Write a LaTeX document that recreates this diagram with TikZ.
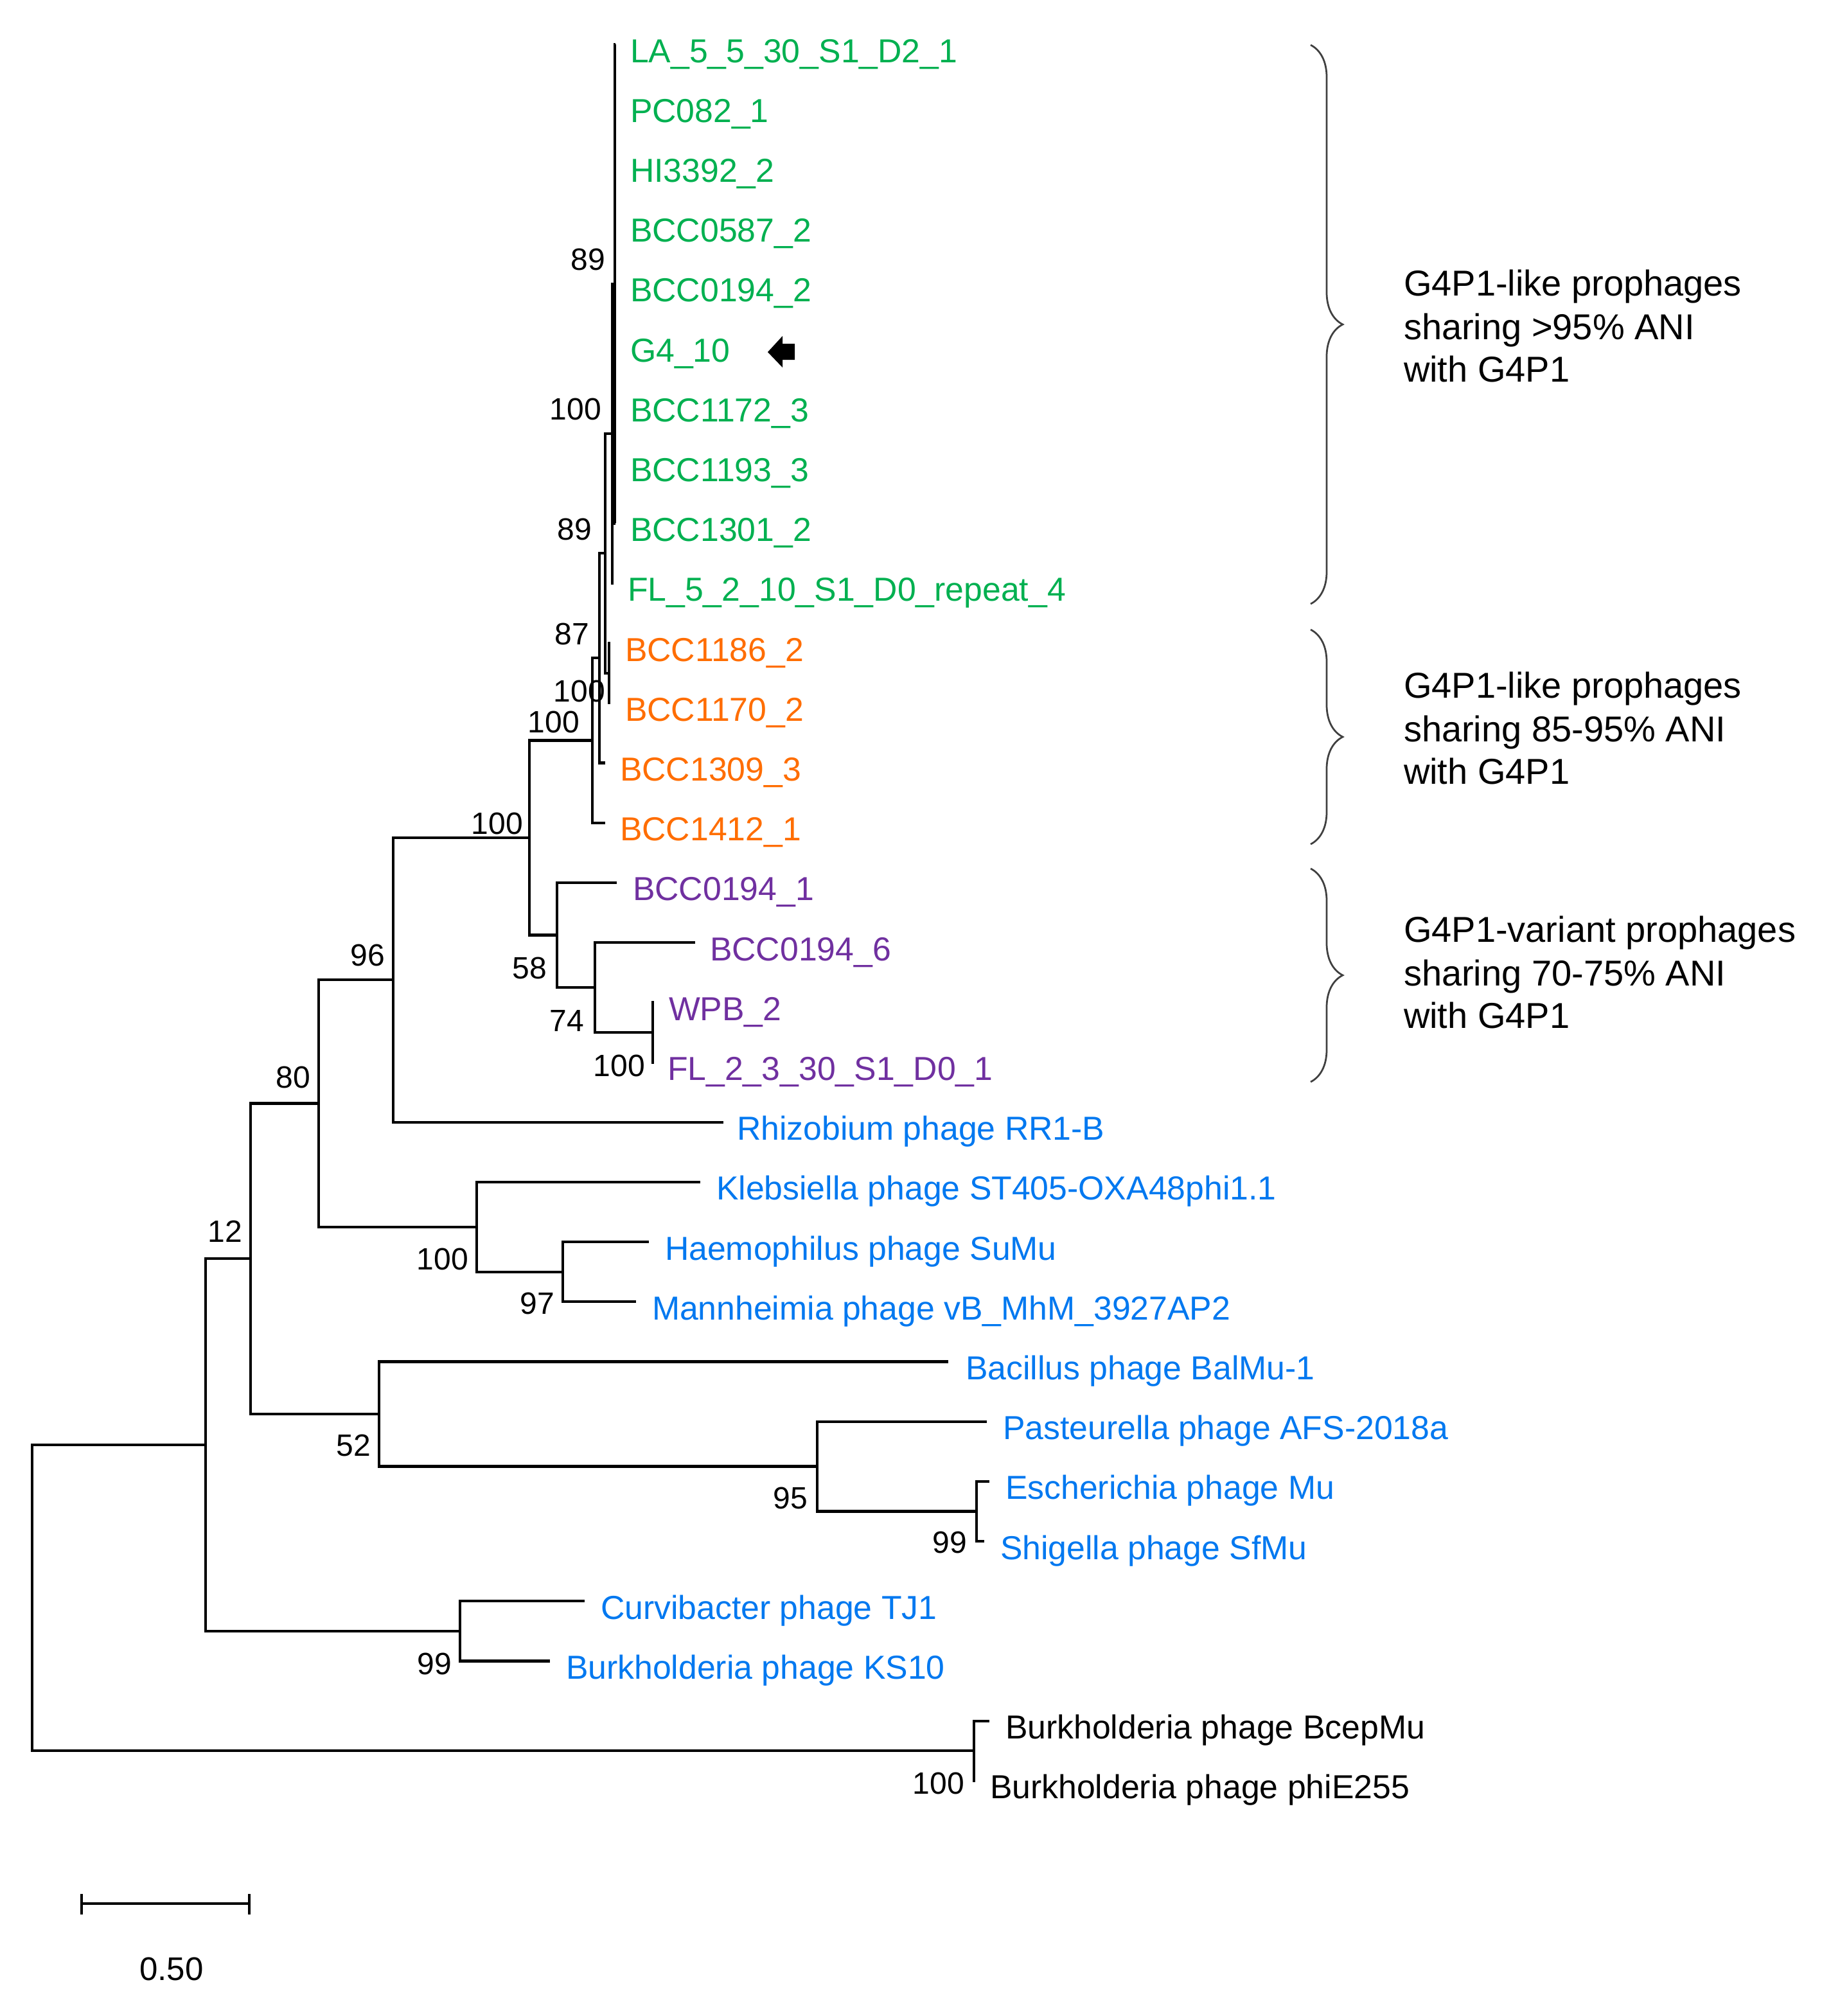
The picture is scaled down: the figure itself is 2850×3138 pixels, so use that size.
\documentclass[tikz,border=0pt]{standalone}
\usepackage{fontspec}
\setmainfont{Liberation Sans}
\usetikzlibrary{decorations.pathreplacing}
\definecolor{cgreen}{HTML}{00B050}
\definecolor{corange}{HTML}{FF6D00}
\definecolor{cpurple}{HTML}{7030A0}
\definecolor{cblue}{HTML}{0078F0}
\definecolor{cbrace}{HTML}{404040}
\begin{document}
\begin{tikzpicture}[x=0.2pt,y=-0.2pt,
  branch/.style={line width=0.85pt,line join=miter},
  tiplab/.style={anchor=base west,inner sep=0pt,font=\fontsize{10.35}{12}\selectfont},
  boot/.style={anchor=base east,inner sep=0pt,font=\fontsize{9.6}{11}\selectfont},
  annot/.style={anchor=base west,inner sep=0pt,font=\fontsize{11.2}{13}\selectfont},
  brc/.style={decorate,decoration={brace,amplitude=10pt},draw=cbrace,line width=0.55pt}]
\useasboundingbox (0,0) rectangle (2850,3138);
% ---------- tips ----------
\coordinate (t0) at (958,69);
\coordinate (t1) at (958,162.2);
\coordinate (t2) at (958,255.4);
\coordinate (t3) at (958,348.6);
\coordinate (t4) at (958,441.8);
\coordinate (t5) at (958,535);
\coordinate (t6) at (958,628.2);
\coordinate (t7) at (958,721.4);
\coordinate (t8) at (958,814.6);
\coordinate (t9) at (955,907.8);
\coordinate (t10) at (950,1001);
\coordinate (t11) at (950,1094.2);
\coordinate (t12) at (942,1187.4);
\coordinate (t13) at (942,1280.6);
\coordinate (t14) at (960,1373.8);
\coordinate (t15) at (1082,1467);
\coordinate (t16) at (1018,1560.2);
\coordinate (t17) at (1018,1653.4);
\coordinate (t18) at (1126,1746.6);
\coordinate (t19) at (1090,1839.8);
\coordinate (t20) at (1010,1933);
\coordinate (t21) at (990,2026.2);
\coordinate (t22) at (1476,2119.4);
\coordinate (t23) at (1536,2212.6);
\coordinate (t24) at (1540,2305.8);
\coordinate (t25) at (1532,2399);
\coordinate (t26) at (910,2492.2);
\coordinate (t27) at (856,2585.4);
\coordinate (t28) at (1540,2678.6);
\coordinate (t29) at (1518,2771.8);
% ---------- internal nodes ----------
\coordinate (nQ) at (957,441.8);
\coordinate (nQ2) at (953,628.2);
\coordinate (nP) at (953,674.8);
\coordinate (nT) at (948,1047.6);
\coordinate (nR) at (942,861.2);
\coordinate (nS) at (933,1024.3);
\coordinate (nA) at (922,1152.45);
\coordinate (nW) at (1016,1606.8);
\coordinate (n74) at (926,1536.9);
\coordinate (n58) at (867,1455.35);
\coordinate (nB) at (824,1303.9);
\coordinate (n96) at (612,1525.25);
\coordinate (n97) at (876,1979.6);
\coordinate (nK) at (742,1909.7);
\coordinate (n80) at (496,1717.5);
\coordinate (nE) at (1520,2352.4);
\coordinate (n95) at (1272,2282.5);
\coordinate (n52) at (590,2200.95);
\coordinate (n12) at (390,1959.2);
\coordinate (nC) at (716,2538.8);
\coordinate (n12p) at (320,2249);
\coordinate (nM) at (1516,2725.2);
\coordinate (root) at (50,2487.1);
% ---------- branches ----------
\foreach \t in {t0,t1,t2,t3,t4,t5,t6,t7,t8} \draw[branch] (nQ) |- (\t);
\draw[branch] (nP) |- (nQ);  \draw[branch] (nP) |- (t9);
\draw[branch] (nT) |- (t10); \draw[branch] (nT) |- (t11);
\draw[branch] (nR) |- (nP);  \draw[branch] (nR) |- (nT);
\draw[branch] (nS) |- (nR);  \draw[branch] (nS) |- (t12);
\draw[branch] (nA) |- (nS);  \draw[branch] (nA) |- (t13);
\draw[branch] (nW) |- (t16); \draw[branch] (nW) |- (t17);
\draw[branch] (n74) |- (t15); \draw[branch] (n74) |- (nW);
\draw[branch] (n58) |- (t14); \draw[branch] (n58) |- (n74);
\draw[branch] (nB) |- (nA);  \draw[branch] (nB) |- (n58);
\draw[branch] (n96) |- (nB); \draw[branch] (n96) |- (t18);
\draw[branch] (n97) |- (t20); \draw[branch] (n97) |- (t21);
\draw[branch] (nK) |- (t19); \draw[branch] (nK) |- (n97);
\draw[branch] (n80) |- (n96); \draw[branch] (n80) |- (nK);
\draw[branch] (nE) |- (t24); \draw[branch] (nE) |- (t25);
\draw[branch] (n95) |- (t23); \draw[branch] (n95) |- (nE);
\draw[branch] (n52) |- (t22); \draw[branch] (n52) |- (n95);
\draw[branch] (n12) |- (n80); \draw[branch] (n12) |- (n52);
\draw[branch] (nC) |- (t26); \draw[branch] (nC) |- (t27);
\draw[branch] (n12p) |- (n12); \draw[branch] (n12p) |- (nC);
\draw[branch] (nM) |- (t28); \draw[branch] (nM) |- (t29);
\draw[branch] (root) |- (n12p); \draw[branch] (root) |- (nM);
% ---------- tip labels ----------
\node[tiplab,text=cgreen] (L0) at (980,97) {LA\_5\_5\_30\_S1\_D2\_1};
\node[tiplab,text=cgreen] (L1) at (980,190.2) {PC082\_1};
\node[tiplab,text=cgreen] (L2) at (980,283.4) {HI3392\_2};
\node[tiplab,text=cgreen] (L3) at (980,376.6) {BCC0587\_2};
\node[tiplab,text=cgreen] (L4) at (980,469.8) {BCC0194\_2};
\node[tiplab,text=cgreen] (L5) at (980,563) {G4\_10};
\node[tiplab,text=cgreen] (L6) at (980,656.2) {BCC1172\_3};
\node[tiplab,text=cgreen] (L7) at (980,749.4) {BCC1193\_3};
\node[tiplab,text=cgreen] (L8) at (980,842.6) {BCC1301\_2};
\node[tiplab,text=cgreen] (L9) at (976,935.8) {FL\_5\_2\_10\_S1\_D0\_repeat\_4};
\node[tiplab,text=corange] (L10) at (972,1029) {BCC1186\_2};
\node[tiplab,text=corange] (L11) at (972,1122.2) {BCC1170\_2};
\node[tiplab,text=corange] (L12) at (964,1215.4) {BCC1309\_3};
\node[tiplab,text=corange] (L13) at (964,1308.6) {BCC1412\_1};
\node[tiplab,text=cpurple] (L14) at (984,1401.8) {BCC0194\_1};
\node[tiplab,text=cpurple] (L15) at (1104,1495) {BCC0194\_6};
\node[tiplab,text=cpurple] (L16) at (1040,1588.2) {WPB\_2};
\node[tiplab,text=cpurple] (L17) at (1038,1681.4) {FL\_2\_3\_30\_S1\_D0\_1};
\node[tiplab,text=cblue] (L18) at (1146,1774.6) {Rhizobium phage RR1-B};
\node[tiplab,text=cblue] (L19) at (1114,1867.8) {Klebsiella phage ST405-OXA48phi1.1};
\node[tiplab,text=cblue] (L20) at (1034,1961) {Haemophilus phage SuMu};
\node[tiplab,text=cblue] (L21) at (1014,2054.2) {Mannheimia phage vB\_MhM\_3927AP2};
\node[tiplab,text=cblue] (L22) at (1502,2147.4) {Bacillus phage BalMu-1};
\node[tiplab,text=cblue] (L23) at (1560,2240.6) {Pasteurella phage AFS-2018a};
\node[tiplab,text=cblue] (L24) at (1564,2333.8) {Escherichia phage Mu};
\node[tiplab,text=cblue] (L25) at (1556,2427) {Shigella phage SfMu};
\node[tiplab,text=cblue] (L26) at (934,2520.2) {Curvibacter phage TJ1};
\node[tiplab,text=cblue] (L27) at (880,2613.4) {Burkholderia phage KS10};
\node[tiplab] (L28) at (1564,2706.6) {Burkholderia phage BcepMu};
\node[tiplab] (L29) at (1540,2799.8) {Burkholderia phage phiE255};
% ---------- bootstrap values ----------
\node[boot] (bQ) at (943,420) {89};
\node[boot] (bP) at (937,653) {100};
\node[boot] (bR) at (922,840) {89};
\node[boot] (bS) at (918,1003) {87};
\node[boot] (bT) at (943,1092) {100};
\node[boot] (bA) at (903,1140) {100};
\node[boot] (bB) at (815,1298) {100};
\node[boot] (b58) at (852,1523) {58};
\node[boot] (b74) at (910,1605) {74};
\node[boot] (bW) at (1005,1675) {100};
\node[boot] (b96) at (600,1503) {96};
\node[boot] (b80) at (484,1693) {80};
\node[boot] (b12) at (378,1933) {12};
\node[boot] (bK) at (730,1976) {100};
\node[boot] (b97) at (864,2045) {97};
\node[boot] (b52) at (578,2266) {52};
\node[boot] (b95) at (1258,2348) {95};
\node[boot] (bE) at (1506,2417) {99};
\node[boot] (bC) at (704,2606) {99};
\node[boot] (bM) at (1502,2792) {100};
% ---------- arrow at G4_10 ----------
\fill (1195,548) -- (1218,523) -- (1218,535) -- (1237,535) -- (1237,560) -- (1218,560) -- (1218,572) -- cycle;
% ---------- braces and group texts ----------
\draw[brc] (2040,70) -- (2040,940);
\draw[brc] (2040,980) -- (2040,1314);
\draw[brc] (2040,1352) -- (2040,1684);
\node[annot] (g1a) at (2184,460) {G4P1-like prophages};
\node[annot] (g1b) at (2184,528) {sharing >95\% ANI};
\node[annot] (g1c) at (2184,594) {with G4P1};
\node[annot] (g2a) at (2184,1086) {G4P1-like prophages};
\node[annot] (g2b) at (2184,1154) {sharing 85-95\% ANI};
\node[annot] (g2c) at (2184,1220) {with G4P1};
\node[annot] (g3a) at (2184,1466) {G4P1-variant prophages};
\node[annot] (g3b) at (2184,1534) {sharing 70-75\% ANI};
\node[annot] (g3c) at (2184,1600) {with G4P1};
% ---------- scale bar ----------
\coordinate (sL) at (127,2963);
\coordinate (sR) at (388,2963);
\draw[branch] (sL) -- (sR);
\draw[branch] ([yshift=3pt]sL) -- ([yshift=-3.4pt]sL);
\draw[branch] ([yshift=3pt]sR) -- ([yshift=-3.4pt]sR);
\node[anchor=base,inner sep=0pt,font=\fontsize{10.2}{12}\selectfont] (sc) at (267,3082) {0.50};
\end{tikzpicture}
\end{document}
